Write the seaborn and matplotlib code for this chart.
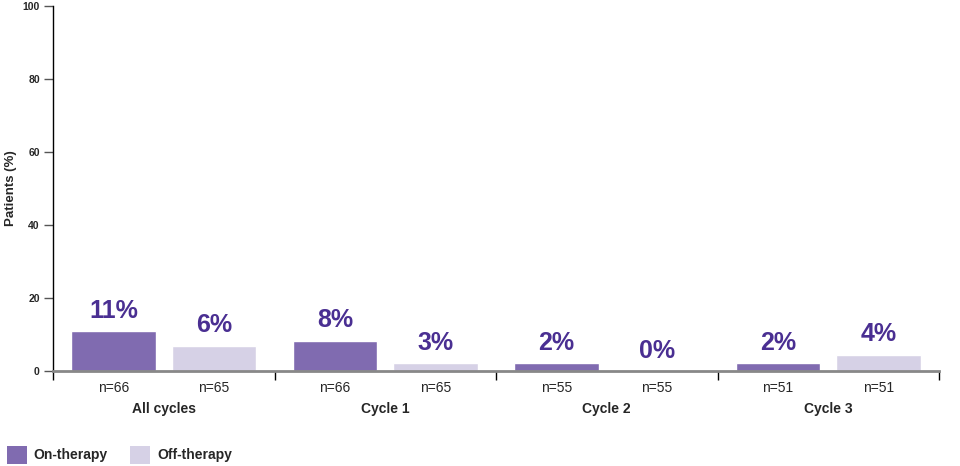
import numpy as np
import pandas as pd
import matplotlib
matplotlib.use("Agg")
import matplotlib.pyplot as plt
import seaborn as sns
from matplotlib.patches import Patch
from matplotlib.transforms import blended_transform_factory

# data
groups = ["All cycles", "Cycle 1", "Cycle 2", "Cycle 3"]
therapies = ["On-therapy", "Off-therapy"]
on_values = [11.0, 8.3, 2.1, 2.1]
off_values = [6.9, 2.1, 0.0, 4.5]
on_labels = ["11%", "8%", "2%", "2%"]
off_labels = ["6%", "3%", "0%", "4%"]
on_n = ["n=66", "n=66", "n=55", "n=51"]
off_n = ["n=65", "n=65", "n=55", "n=51"]
y_ticks = [0, 20, 40, 60, 80, 100]

on_color = "#806BB0"
off_color = "#D6D1E6"
label_color = "#4A2F92"

sns.set_theme(style="white")
plt.rcParams["font.family"] = ["Liberation Sans", "DejaVu Sans"]

df = pd.DataFrame({
    "group": groups * 2,
    "therapy": [therapies[0]] * 4 + [therapies[1]] * 4,
    "value": on_values + off_values,
})

fig = plt.figure(figsize=(9.6, 4.66), dpi=100)
ax = fig.add_axes([53 / 960, 95 / 466, 886 / 960, 365 / 466])

sns.barplot(data=df, x="group", y="value", hue="therapy", order=groups,
            hue_order=therapies, palette=[on_color, off_color],
            width=0.91, gap=0.16, saturation=1, legend=False, ax=ax,
            err_kws={"linewidth": 0})

for cont, labs in zip(ax.containers, [on_labels, off_labels]):
    ax.bar_label(cont, labels=labs, padding=6, color=label_color,
                 fontsize=18, fontweight="bold")

ax.set_xlim(-0.5, len(groups) - 0.5)
ax.set_ylim(0, 100)
ax.set_yticks(y_ticks)
ax.set_yticklabels([str(t) for t in y_ticks], fontsize=7.5, fontweight="bold")
ax.tick_params(axis="y", length=6.5, width=1, color="#555555", pad=3, left=True)

# group separators as x ticks
ax.set_xticks(np.arange(len(groups) + 1) - 0.5)
ax.set_xticklabels([])
ax.tick_params(axis="x", length=6.5, width=1, color="black", bottom=True)
ax.set_xlabel("")
ax.set_ylabel("Patients (%)", fontsize=9.5, fontweight="bold")
ax.yaxis.set_label_coords(-0.041, 0.5)

sns.despine(ax=ax)
ax.spines["left"].set_color("black")
ax.spines["left"].set_linewidth(1)
ax.spines["bottom"].set_color("#888888")
ax.spines["bottom"].set_linewidth(2)

trans = blended_transform_factory(ax.transData, ax.transAxes)
for i in range(len(groups)):
    ax.text(i - 0.2275, -0.047, on_n[i], transform=trans, ha="center",
            va="center", fontsize=10)
    ax.text(i + 0.2275, -0.047, off_n[i], transform=trans, ha="center",
            va="center", fontsize=10)
    ax.text(i, -0.104, groups[i], transform=trans, ha="center",
            va="center", fontsize=10, fontweight="bold")

handles = [Patch(facecolor=on_color, edgecolor="none"),
           Patch(facecolor=off_color, edgecolor="none")]
fig.legend(handles, therapies, loc="lower left", bbox_to_anchor=(-0.006, -0.022),
           ncol=2, frameon=False, handlelength=1.45, handleheight=1.6,
           handletextpad=0.5, columnspacing=1.6,
           prop={"weight": "bold", "size": 10})

fig.savefig("out.png", dpi=100)
